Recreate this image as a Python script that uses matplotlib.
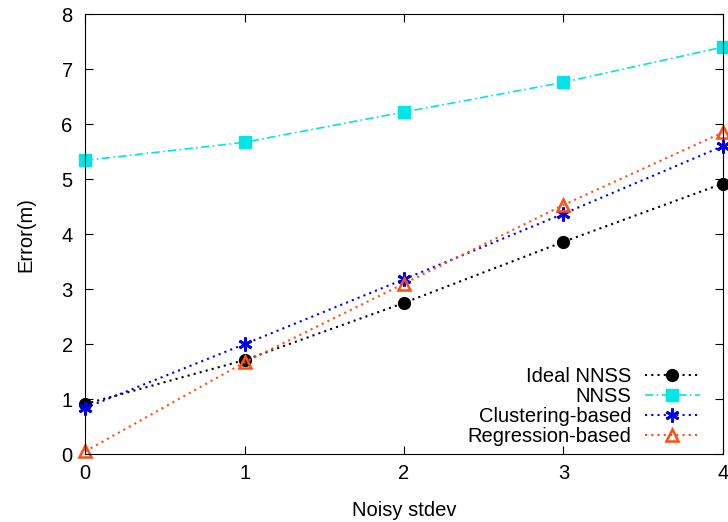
import numpy as np
import matplotlib
matplotlib.use("Agg")
import matplotlib.pyplot as plt

plt.rcParams['font.family'] = ['Liberation Sans', 'DejaVu Sans']

x = [0, 1, 2, 3, 4]
ideal_nnss = [0.91, 1.71, 2.75, 3.86, 4.92]
nnss = [5.34, 5.67, 6.22, 6.76, 7.40]
clustering = [0.84, 2.00, 3.18, 4.37, 5.60]
regression = [0.05, 1.67, 3.10, 4.53, 5.85]

fig = plt.figure(figsize=(7.28, 5.22), dpi=100)
ax = fig.add_axes([0.117, 0.130, 0.876, 0.843])

ax.plot(x, ideal_nnss, color='black', linestyle=(0, (1, 2)), linewidth=1.5,
        marker='o', markersize=8.5, label='Ideal NNSS', clip_on=False)
ax.plot(x, nnss, color='#00e5e5', linestyle=(0, (5, 2, 1, 2)), linewidth=1.2,
        marker='s', markersize=9, label='NNSS', clip_on=False)
ax.plot(x, clustering, color='#0000ee', linestyle=(0, (1, 2)), linewidth=1.5,
        marker=(6, 2, 0), markersize=10, markeredgewidth=2, label='Clustering-based', clip_on=False)
ax.plot(x, regression, color='#ff4f0f', linestyle=(0, (1, 2)), linewidth=1.5,
        marker='^', markersize=9, markerfacecolor='none', markeredgewidth=1.8,
        label='Regression-based', clip_on=False)

ax.set_xlim(0, 4)
ax.set_ylim(0, 8)
ax.set_xticks(x)
ax.set_yticks(range(0, 9))
ax.tick_params(direction='in', top=True, right=True, labelsize=14.5, length=6)
ax.tick_params(axis='x', pad=7)
ax.tick_params(axis='y', pad=9)
ax.set_xlabel('Noisy stdev', fontsize=14.5, labelpad=13)
ax.set_ylabel('Error(m)', fontsize=14.5, labelpad=19)

ax.legend(loc='lower right', bbox_to_anchor=(0.973, 0.005), frameon=False,
          markerfirst=False, fontsize=14.5, handlelength=2.7, labelspacing=0.05,
          borderaxespad=0, borderpad=0.3, handletextpad=0.7)

fig.savefig('out.png', dpi=100)
